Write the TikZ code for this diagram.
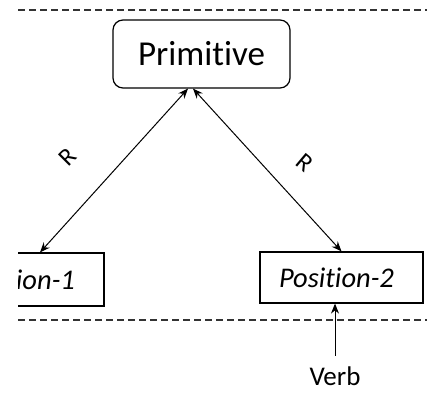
\documentclass[tikz,border=0pt]{standalone}
\usepackage{fontspec}
\setmainfont{Carlito}[Ligatures=NoCommon]
\usetikzlibrary{arrows.meta}

\tikzset{
  box/.style={draw, line width=1.2pt, minimum width=163pt, inner sep=0pt},
  boxtext/.style={font=\itshape\fontsize{28.5}{33}\selectfont, inner sep=0pt},
  link/.style={line width=1pt, {Stealth[length=10pt,width=8pt]}-{Stealth[length=10pt,width=8pt]}},
  feed/.style={line width=1pt, -{Stealth[length=10pt,width=8pt]}},
  border/.style={line width=1.1pt, black!80, dash pattern=on 7pt off 4pt},
  rlabel/.style={font=\fontsize{25}{30}\selectfont, inner sep=0pt}
}

\begin{document}
\begin{tikzpicture}[x=1pt,y=-1pt]
  \useasboundingbox (0,0) rectangle (427,393);
  \clip (18,0) rectangle (427,393);

  % boundaries
  \draw[border] (18,10) -- (427,10);
  \draw[border] (18,320) -- (427,320);

  % Primitive
  \node[draw, line width=1.2pt, rounded corners=10pt, minimum width=177pt, minimum height=68pt, font=\fontsize{35}{40}\selectfont] (prim) at (201.5,54) {Primitive};

  % positions
  \node[box, minimum height=53pt] (pos1) at (22.5,279.5) {};
  \node[boxtext] (pos1t) at ([xshift=-5pt]pos1.center) {Position-1};
  \node[box, minimum height=51pt] (pos2) at (341.5,277.5) {};
  \node[boxtext] (pos2t) at ([xshift=-5pt]pos2.center) {Position-2};

  % Verb
  \node[font=\fontsize{27}{32}\selectfont] (verb) at (335,376.5) {Verb};

  % connectors
  \draw[link] ([xshift=-13.5pt]prim.south) -- ([xshift=17.5pt]pos1.north);
  \draw[link] ([xshift=-8.5pt]prim.south) -- (pos2.north);
  \draw[feed] ([yshift=8pt]verb.north) -- ([xshift=-6.5pt]pos2.south);

  % labels
  \node[rlabel, rotate=45] (r1) at (68,157) {R};
  \node[rlabel, rotate=-40] (r2) at (305,163) {R};
\end{tikzpicture}
\end{document}
